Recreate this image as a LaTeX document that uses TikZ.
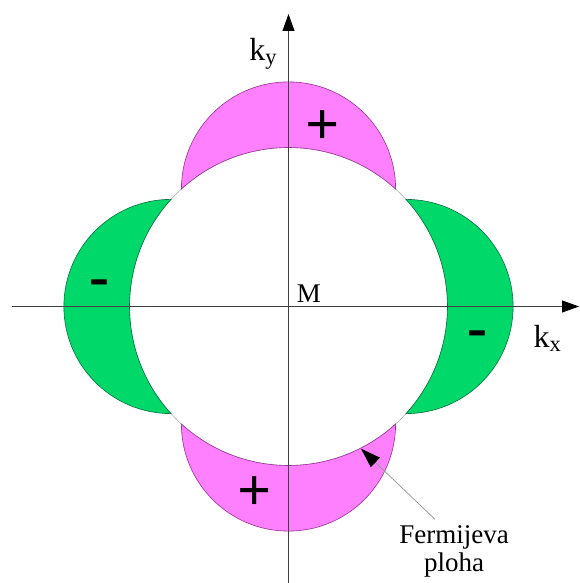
\documentclass[tikz,border=0pt]{standalone}
\usepackage{fontspec}
\setmainfont{Liberation Serif}
\newfontfamily\labelfont{Liberation Serif}
\usepackage{xcolor}
\usepackage{tikz}
\usetikzlibrary{arrows.meta}

\definecolor{lobepink}{RGB}{255,128,255}
\definecolor{lobegreen}{RGB}{0,217,106}
\definecolor{edgepink}{RGB}{150,50,150}
\definecolor{edgegreen}{RGB}{0,115,60}

\begin{document}
\begin{tikzpicture}[
    x=1pt, y=1pt,
    every node/.style={inner sep=0pt},
    lobe/.style={line width=0.6pt},
    fermisurf/.style={draw=gray!60, line width=0.6pt, fill=white},
    axis/.style={line width=0.9pt, draw=black!75, -{Triangle[length=17pt, width=12pt, black]}},
    axislbl/.style={font=\labelfont\fontsize{32}{38}\selectfont},
    pointlbl/.style={font=\labelfont\fontsize{27}{28}\selectfont},
    sign/.style={font=\labelfont\fontsize{60}{60}\selectfont\bfseries},
    pointer/.style={draw=gray!85, line width=0.7pt, -{Triangle[length=20pt, width=13pt, black]}}
  ]
    \useasboundingbox (-288.5,-276.5) rectangle (290.5,306.5);

    % ── Fermi surface ──
    \coordinate (origin) at (0,0);
    \draw[fermisurf] (origin) circle[radius=159];

    % ── Lobes: crescents outside the circle ──
    \foreach \ang/\col in {90/pink, 270/pink, 0/green, 180/green}
      \filldraw[lobe, fill=lobe\col, draw=edge\col]
        (\ang-42.35:159) arc[start angle=\ang-90, delta angle=180, radius=107.1]
        arc[start angle=\ang+42.35, end angle=\ang-42.35, radius=159] -- cycle;

    % ── Axes ──
    \coordinate (kxstart) at (-276.5,0);
    \coordinate (kxend) at (290.5,0);
    \coordinate (kystart) at (0,-280);
    \coordinate (kyend) at (0,292.5);
    \draw[axis] (kxstart) -- (kxend);
    \draw[axis] (kystart) -- (kyend);

    % ── Labels ──
    \node[axislbl, anchor=base west] (kylabel) at (-39.2,245.5) {k\textsubscript{y}};
    \node[axislbl, anchor=base west] (kxlabel) at (244.8,-40.8) {k\textsubscript{x}};
    \node[pointlbl, anchor=base west] (M) at (8.2,3.8) {M};

    % ── Signs ──
    \node[sign] (plustop) at (33.8,179.2) {+};
    \node[sign] (plusbot) at (-33.7,-186.9) {+};
    \node[sign] (minusleft) at (-189.5,18) {-};
    \node[sign] (minusright) at (189,-33) {-};

    % ── Fermi surface label ──
    \node[pointlbl, align=center, anchor=north] (fermi) at (165.5,-219) {Fermijeva\\ploha};
    \coordinate (fermitail) at (146.5,-212.8);
    \coordinate (fermitip) at (-63:159.5);
    \draw[pointer] (fermitail) -- (fermitip);

  \end{tikzpicture}
\end{document}
